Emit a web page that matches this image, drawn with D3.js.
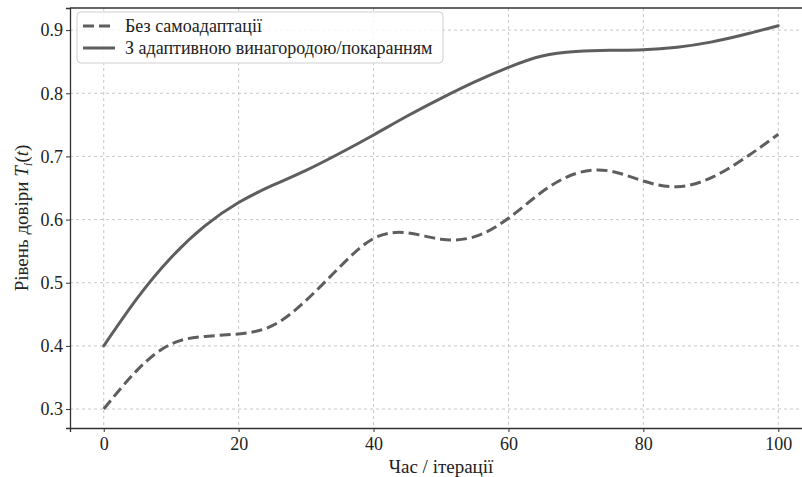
<!DOCTYPE html>
<html>
<head>
<meta charset="utf-8">
<script src="https://cdn.jsdelivr.net/npm/d3@7"></script>
<style>
  body { margin: 0; background: #fff; }
  svg text { font-family: "Liberation Serif", "Times New Roman", Times, "DejaVu Serif", serif !important; }
</style>
</head>
<body>
<script>
// дані
var iterations = [0, 5, 10, 15, 20, 25, 30, 35, 40, 45, 50, 55, 60, 65, 70, 75, 80, 85, 90, 95, 100];
var noAdapt = [0.300, 0.362, 0.403, 0.415, 0.419, 0.432, 0.472, 0.525, 0.570, 0.579, 0.569, 0.573, 0.602, 0.644, 0.673, 0.677, 0.661, 0.652, 0.666, 0.697, 0.735];
var adaptive = [0.400, 0.476, 0.540, 0.590, 0.627, 0.654, 0.678, 0.705, 0.734, 0.764, 0.792, 0.818, 0.841, 0.859, 0.866, 0.868, 0.869, 0.873, 0.881, 0.893, 0.907];
var xTicks = [0, 20, 40, 60, 80, 100];
var yTicks = [0.3, 0.4, 0.5, 0.6, 0.7, 0.8, 0.9];
var seriesNames = ['Без самоадаптації', 'З адаптивною винагородою/покаранням'];

var W = 802, H = 477;
var margin = {left: 70, top: 8, right: -10, bottom: 49};
var lineColor = '#5e5e5e';
var serif = '"Liberation Serif", "Times New Roman", Times, "DejaVu Serif", serif';

var svg = d3.select('body').append('svg')
    .attr('width', W)
    .attr('height', H)
    .attr('font-family', serif);

var x = d3.scaleLinear().domain([-5, 105]).range([margin.left, W - margin.right]);
var y = d3.scaleLinear().domain([0.27, 0.935]).range([H - margin.bottom, margin.top]);

// сітка
var grid = svg.append('g');
grid.selectAll('line.gx').data(xTicks).enter().append('line')
    .attr('x1', d => x(d)).attr('x2', d => x(d))
    .attr('y1', y.range()[1]).attr('y2', y.range()[0])
    .attr('stroke', '#c8c8c8').attr('stroke-width', 1)
    .attr('stroke-dasharray', '3,3');
grid.selectAll('line.gy').data(yTicks).enter().append('line')
    .attr('x1', x.range()[0]).attr('x2', x.range()[1])
    .attr('y1', d => y(d)).attr('y2', d => y(d))
    .attr('stroke', '#c8c8c8').attr('stroke-width', 1)
    .attr('stroke-dasharray', '3,3');

// лінії
var line = d3.line().curve(d3.curveNatural);
var ptsA = iterations.map((t, i) => [x(t), y(noAdapt[i])]);
var ptsB = iterations.map((t, i) => [x(t), y(adaptive[i])]);

svg.append('path').attr('d', line(ptsA))
    .attr('fill', 'none').attr('stroke', lineColor)
    .attr('stroke-width', 3).attr('stroke-dasharray', '11,5');
svg.append('path').attr('d', line(ptsB))
    .attr('fill', 'none').attr('stroke', lineColor)
    .attr('stroke-width', 3).attr('stroke-linecap', 'round');

// осі
var xAxis = svg.append('g')
    .attr('transform', 'translate(0,' + y.range()[0] + ')')
    .call(d3.axisBottom(x).tickValues(xTicks).tickSize(4).tickPadding(5).tickFormat(d3.format('d')));
var yAxis = svg.append('g')
    .attr('transform', 'translate(' + x.range()[0] + ',0)')
    .call(d3.axisLeft(y).tickValues(yTicks).tickSize(4).tickPadding(3).tickFormat(d3.format('.1f')));
[xAxis, yAxis].forEach(function(a) {
    a.attr('font-family', serif);
    a.selectAll('text').attr('font-size', 18).attr('fill', '#222');
    a.selectAll('.tick line').attr('stroke', '#333');
    a.select('.domain').attr('stroke', '#333').attr('stroke-width', 1.3);
});

// верхня рамка
svg.append('line')
    .attr('x1', x.range()[0]).attr('x2', x.range()[1])
    .attr('y1', y.range()[1]).attr('y2', y.range()[1])
    .attr('stroke', '#333').attr('stroke-width', 1.3);

// підписи осей
svg.append('text')
    .attr('x', (x(0) + x(100)) / 2).attr('y', 473)
    .attr('text-anchor', 'middle').attr('font-size', 19).attr('fill', '#222')
    .text('Час / ітерації');

var yl = svg.append('text')
    .attr('transform', 'translate(28,' + ((y.range()[0] + y.range()[1]) / 2) + ') rotate(-90)')
    .attr('text-anchor', 'middle').attr('font-size', 19).attr('fill', '#222');
yl.append('tspan').text('Рівень довіри ');
yl.append('tspan').attr('font-style', 'italic').text('T');
yl.append('tspan').attr('font-style', 'italic').attr('font-size', 13).attr('dy', 4).text('i');
yl.append('tspan').attr('dy', -4).text('(');
yl.append('tspan').attr('font-style', 'italic').text('t');
yl.append('tspan').text(')');

// легенда
var lg = svg.append('g');
lg.append('rect')
    .attr('x', 77).attr('y', 12).attr('width', 366).attr('height', 51)
    .attr('rx', 4).attr('fill', '#fff').attr('fill-opacity', 0.85)
    .attr('stroke', '#d0d0d0');
seriesNames.forEach(function(name, i) {
    var yy = 26 + i * 22;
    lg.append('line')
        .attr('x1', 83).attr('x2', 115).attr('y1', yy).attr('y2', yy)
        .attr('stroke', lineColor).attr('stroke-width', 3)
        .attr('stroke-dasharray', i === 0 ? '11,5' : null);
    lg.append('text')
        .attr('x', 125).attr('y', yy + 6)
        .attr('font-size', 18).attr('fill', '#222')
        .text(name);
});
</script>
</body>
</html>
